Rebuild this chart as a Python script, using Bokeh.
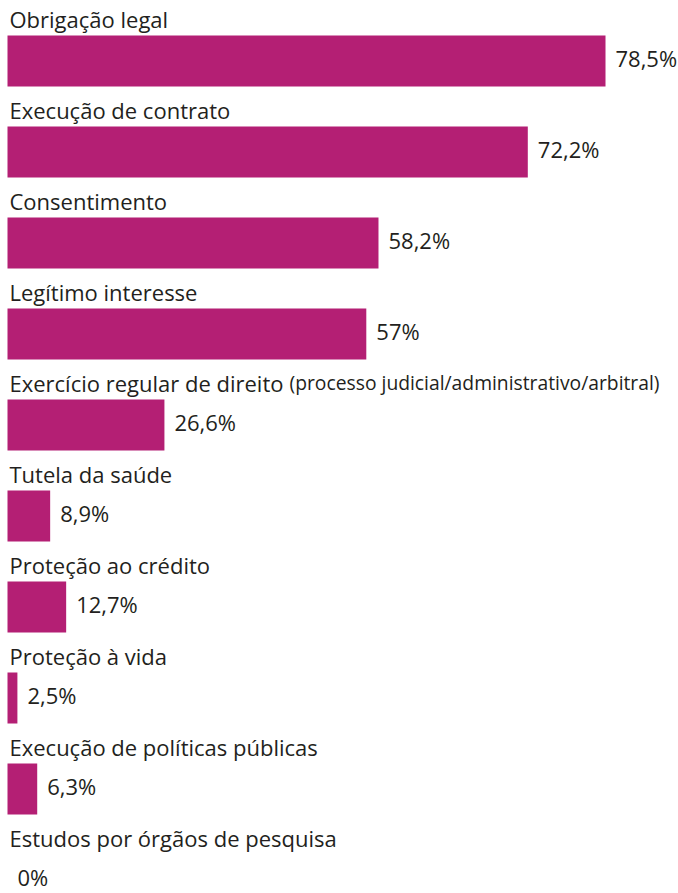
from bokeh.plotting import figure
from bokeh.models import ColumnDataSource, Range1d
from bokeh.core.properties import value
from bokeh.embed import file_html
from bokeh.resources import INLINE

# ---- data ----
categorias = [
    "Obrigação legal",
    "Execução de contrato",
    "Consentimento",
    "Legítimo interesse",
    "Exercício regular de direito",
    "Tutela da saúde",
    "Proteção ao crédito",
    "Proteção à vida",
    "Execução de políticas públicas",
    "Estudos por órgãos de pesquisa",
]
valores = [78.5, 72.2, 58.2, 57.0, 26.6, 8.9, 12.7, 2.5, 6.3, 0.0]
rotulos = ["78,5%", "72,2%", "58,2%", "57%", "26,6%", "8,9%", "12,7%", "2,5%", "6,3%", "0%"]
# bar lengths as drawn in the original picture (same % units)
comprimento_barra = [78.5, 68.3, 48.7, 47.1, 20.6, 5.6, 7.7, 1.3, 3.9, 0.0]
nota_extra = "(processo judicial/administrativo/arbitral)"

# ---- layout constants ----
W, H = 678, 893
px_per_unit = 598 / 78.5      # pixels per % unit
x0_px = 7.0                   # canvas x of value 0
pitch = 91.0                  # pixels between bars
bar_h_px = 51
first_top_px = 35
first_center_px = first_top_px + bar_h_px / 2

COR = "#B41F74"
TXT = "#231F20"
FONT = "Open Sans"

idx = list(range(len(categorias)))
half = bar_h_px / pitch / 2
src = ColumnDataSource(dict(
    y=idx,
    comp=comprimento_barra,
    cat=categorias,
    rot=rotulos,
    ytop=[i - half for i in idx],
))

x_start = -x0_px / px_per_unit
x_range = Range1d(start=x_start, end=x_start + W / px_per_unit)

y_top_val = -first_center_px / pitch
y_bot_val = (H - first_center_px) / pitch
y_range = Range1d(start=y_bot_val, end=y_top_val)

p = figure(width=W, height=H, x_range=x_range, y_range=y_range,
           output_backend="svg", toolbar_location=None, min_border=0,
           background_fill_color="white", border_fill_color="white",
           outline_line_color=None)
p.axis.visible = False
p.grid.visible = False

p.hbar(y="y", left=0, right="comp", height=bar_h_px / pitch, source=src,
       fill_color=COR, line_color=None)

p.text(x=0, y="ytop", text="cat", source=src, x_offset=2, y_offset=-17,
       text_font=value(FONT), text_font_size="22px", text_color=TXT,
       text_baseline="alphabetic", text_align="left")

p.text(x="comp", y="y", text="rot", source=src, x_offset=10, y_offset=-3,
       text_font=value(FONT), text_font_size="22px", text_color=TXT,
       text_baseline="middle", text_align="left")

p.text(x=[0], y=[4 - half], text=[nota_extra], x_offset=282, y_offset=-17,
       text_font=value(FONT), text_font_size="19.3px", text_color=TXT,
       text_baseline="alphabetic", text_align="left")

open("out.html", "w").write(file_html(p, INLINE))
